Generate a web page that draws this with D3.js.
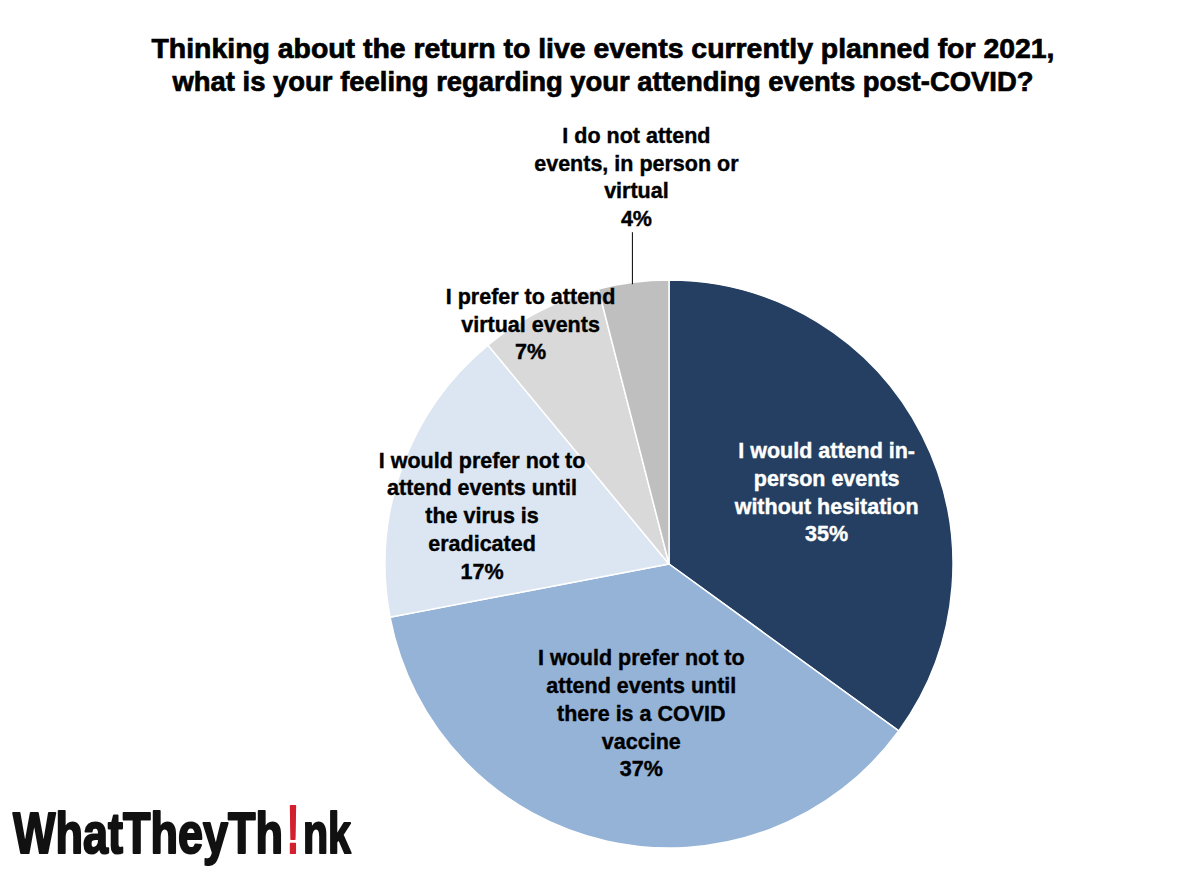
<!DOCTYPE html>
<html><head><meta charset="utf-8">
<script src="https://cdn.jsdelivr.net/npm/d3@7"></script>
<style>
html,body{margin:0;padding:0;background:#fff;}
text{font-family:"Liberation Sans",Arial,sans-serif;font-weight:bold;}
</style></head>
<body>
<svg id="c" width="1200" height="870"></svg>
<script>
const titleLines = ["Thinking about the return to live events currently planned for 2021,",
                    "what is your feeling regarding your attending events post-COVID?"];
const categories = [
  ["I would attend in-", "person events", "without hesitation"],
  ["I would prefer not to", "attend events until", "there is a COVID", "vaccine"],
  ["I would prefer not to", "attend events until", "the virus is", "eradicated"],
  ["I prefer to attend", "virtual events"],
  ["I do not attend", "events, in person or", "virtual"]
];
const values = [35, 37, 17, 7, 4];
const valueLabels = ["35%", "37%", "17%", "7%", "4%"];
const colors = ["#243f61", "#95b3d7", "#dce6f2", "#d9d9d9", "#bfbfbf"];
const textColors = ["#ffffff", "#000000", "#000000", "#000000", "#000000"];

// layout (label placement in polar coords relative to pie centre)
const layout = {cx: 669, cy: 564, r: 284, lineH: 27.7, fontSize: 21.5};
const labelPolar = [[0.61, 65.5], [0.535, 190.5], [0.68, 284.5], [0.975, 330], [null, null]];

const svg = d3.select("#c");

// title
svg.selectAll("text.title").data(titleLines).join("text")
  .attr("class", "title")
  .attr("x", 603).attr("y", (d, i) => 58 + i * 33)
  .attr("text-anchor", "middle")
  .attr("font-family", "'Liberation Sans Narrow','DejaVu Sans Condensed',sans-serif")
  .attr("font-size", 28)
  .attr("stroke", "#000").attr("stroke-width", 0.7)
  .attr("textLength", (d, i) => i === 0 ? 903 : 861)
  .attr("lengthAdjust", "spacingAndGlyphs")
  .text(d => d);

const pie = d3.pie().sort(null).value(d => d);
const arcs = pie(values);
const arc = d3.arc().innerRadius(0).outerRadius(layout.r);

const g = svg.append("g").attr("transform", `translate(${layout.cx},${layout.cy})`);
g.selectAll("path").data(arcs).join("path")
  .attr("d", arc)
  .attr("fill", (d, i) => colors[i])
  .attr("stroke", "#ffffff")
  .attr("stroke-width", 1.5);

// labels
arcs.forEach((a, i) => {
  const lines = categories[i].concat([valueLabels[i]]);
  let x, yMid;
  if (labelPolar[i][0] !== null) {
    const ang = labelPolar[i][1] * Math.PI / 180;
    const rr = labelPolar[i][0] * layout.r;
    x = rr * Math.sin(ang);
    yMid = -rr * Math.cos(ang);
  } else {
    // outside label with leader line
    const mid = (a.startAngle + a.endAngle) / 2;
    const px = layout.r * Math.sin(mid);
    const py = -layout.r * Math.cos(mid);
    const lx = px - 1;
    g.append("line")
      .attr("x1", lx).attr("x2", lx)
      .attr("y1", py + 2).attr("y2", py - 50)
      .attr("stroke", "#000").attr("stroke-width", 1);
    x = lx + 4;
    yMid = py - 50 - 8 - (lines.length * layout.lineH) / 2 + 8;
  }
  const n = lines.length;
  const t = g.append("text")
    .attr("text-anchor", "middle")
    .attr("font-size", layout.fontSize)
    .attr("fill", textColors[i])
    .attr("stroke", textColors[i]).attr("stroke-width", 0.4);
  lines.forEach((ln, j) => {
    t.append("tspan")
      .attr("x", x)
      .attr("y", yMid + (j - (n - 1) / 2) * layout.lineH + 7.5)
      .text(ln);
  });
});

// logo: each part measured, then squeezed horizontally so parts sit side by side
const logoParts = [
  {t: "WhatTheyTh", w: 270, size: 58, fill: "#111"},
  {t: "!", w: 12, size: 68, fill: "#d3202f"},
  {t: "nk", w: 48, size: 58, fill: "#111"}
];
let lx0 = 13;
logoParts.forEach(p => {
  const gg = svg.append("g");
  const tx = gg.append("text")
    .attr("x", 0).attr("y", 0)
    .attr("font-size", p.size)
    .attr("fill", p.fill)
    .attr("stroke", p.fill).attr("stroke-width", 2.2)
    .attr("stroke-linejoin", "round")
    .text(p.t);
  const nat = tx.node().getComputedTextLength();
  gg.attr("transform", `translate(${lx0},853) scale(${p.w / nat},1)`);
  lx0 += p.w + 4;
});
</script>
</body></html>
